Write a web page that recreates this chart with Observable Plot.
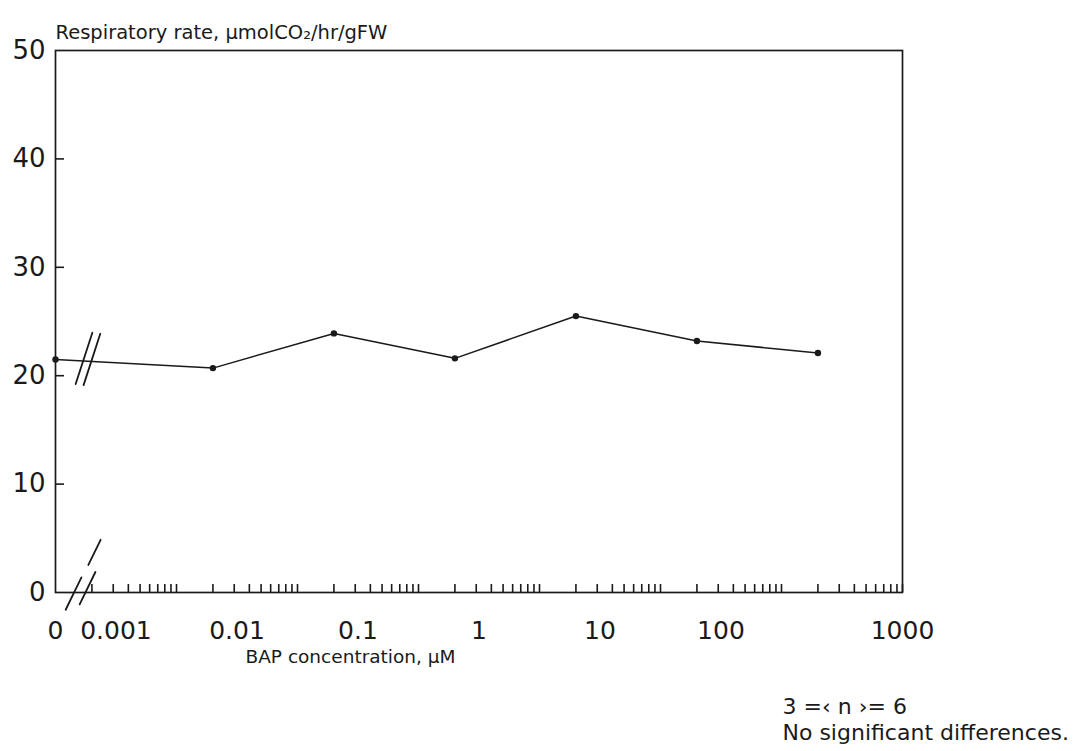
<!DOCTYPE html>
<html>
<head>
<meta charset="utf-8">
<script src="https://cdn.jsdelivr.net/npm/d3@7"></script>
<script src="https://cdn.jsdelivr.net/npm/@observablehq/plot@0.6"></script>
<style>
  html, body { margin: 0; padding: 0; background: #fff; }
  #chart svg { display: block; }
</style>
</head>
<body>
<div id="chart"></div>
<script>
// ---- data ----
const concentrations = [0, 0.002, 0.02, 0.2, 2, 20, 200];          // BAP, µM (0 = control)
const respiratoryRate = [21.5, 20.7, 23.9, 21.6, 25.5, 23.2, 22.1]; // µmol CO2 / hr / g FW
const xTickLabels = ["0", "0.001", "0.01", "0.1", "1", "10", "100", "1000"];
// where the original print places each label on the log axis
// ("0" at the axis start, "1000" at the end, the others half a decade left of their decade)
const xLabelAt = [0.0001, 0.000316, 0.00316, 0.0316, 0.316, 3.16, 31.6, 1000];
const yTickValues = [0, 10, 20, 30, 40, 50];
const yInnerTicks = [10, 20, 30, 40];
const minorMantissas = [2, 3, 4, 5, 6, 7, 8, 9, 10];
const minorDecades = [0.0001, 0.001, 0.01, 0.1, 1, 10, 100];
const titleText = "Respiratory rate, µmolCO₂/hr/gFW";
const xTitleText = "BAP concentration, µM";
const noteLines = ["3 =‹ n ›= 6", "No significant differences."];
const zeroAt = 0.0001; // where the "0" control sits on the log axis

// ---- derived tables ----
const pos = (c) => (c === 0 ? zeroAt : c);
const data = concentrations.map((c, i) => ({x: pos(c), y: respiratoryRate[i]}));
const xLabels = xTickLabels.map((t, i) => ({x: xLabelAt[i], text: t}));
const minorTicks = minorDecades.flatMap((d) => minorMantissas.map((m) => +(d * m).toPrecision(6)));

// break marks ("//") on the line and on the axis, in data terms
const lineBreaks = [{x: 0.000172, y: 21.6}, {x: 0.000200, y: 21.5}];
const axisBreaks = [
  {x: 0.000141, y: -0.1, l: 36},
  {x: 0.000184, y: 0.4, l: 36},
  {x: 0.000210, y: 3.7, l: 28}
];

const slash = {
  draw(context, l) {
    context.moveTo(0, 0);
    context.lineTo(0, -l);
  }
};

const ink = "#1a1a1a";
const font = "DejaVu Sans";

const chart = Plot.plot({
  width: 1082,
  height: 751,
  marginLeft: 55,
  marginRight: 180,
  marginTop: 50,
  marginBottom: 159,
  style: {fontFamily: font, fontSize: "22px", color: ink, background: "#fff"},
  x: {type: "log", domain: [0.0001, 1000]},
  y: {type: "linear", domain: [0, 50]},
  length: {type: "identity"},
  marks: [
    Plot.frame({stroke: ink, strokeWidth: 1.7}),
    // inner minor ticks along x (2..10 per decade)
    Plot.axisX(minorTicks, {anchor: "bottom", tickSize: 8, dy: -8, tickFormat: () => "", label: null, stroke: ink, strokeWidth: 1.6}),
    // x labels
    Plot.text(xLabels, {x: "x", text: "text", frameAnchor: "bottom", lineAnchor: "top", dy: 29, fontSize: 25, fill: ink}),
    // inner y ticks
    Plot.axisY(yInnerTicks, {anchor: "left", tickSize: 9, dx: 9, tickFormat: () => "", label: null, stroke: ink, strokeWidth: 1.6}),
    // y labels
    Plot.axisY(yTickValues, {anchor: "left", tickSize: 0, tickPadding: 10, label: null, fontSize: 26, fill: ink}),
    // data
    Plot.line(data, {x: "x", y: "y", stroke: ink, strokeWidth: 1.5}),
    Plot.dot(data, {x: "x", y: "y", r: 3.2, fill: ink, stroke: null}),
    // break marks
    Plot.vector(lineBreaks, {x: "x", y: "y", length: 54, rotate: 18, anchor: "middle", shape: slash, stroke: ink, strokeWidth: 1.8}),
    Plot.vector(axisBreaks, {x: "x", y: "y", length: "l", rotate: 26, anchor: "middle", shape: slash, stroke: ink, strokeWidth: 1.8}),
    // texts
    Plot.text([titleText], {frameAnchor: "top-left", textAnchor: "start", dx: 0, dy: -25, fontSize: 19.5, fill: ink}),
    Plot.text([xTitleText], {frameAnchor: "bottom-left", textAnchor: "start", dx: 190, dy: 70, fontSize: 18.5, fill: ink}),
    Plot.text([noteLines.join("\n")], {frameAnchor: "bottom-right", textAnchor: "start", lineAnchor: "top", dx: -120, dy: 104, lineHeight: 1.15, fontSize: 22, fill: ink})
  ]
});

document.getElementById("chart").appendChild(chart);
</script>
</body>
</html>
